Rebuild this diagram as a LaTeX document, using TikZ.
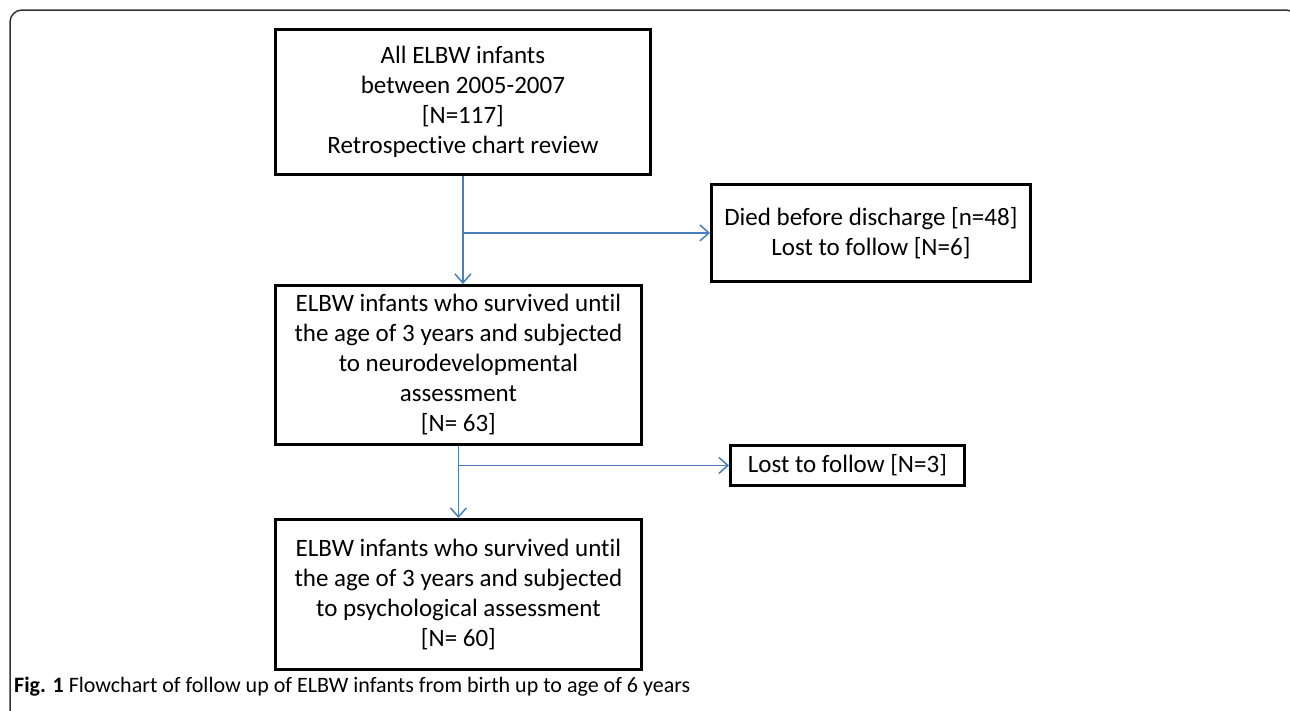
\documentclass[tikz,border=0pt]{standalone}
\usepackage{fontspec}
\setmainfont{Carlito}[Ligatures=NoCommon]
\usepackage{xcolor}
\usepackage{tikz}
\usetikzlibrary{arrows.meta}

\definecolor{arrowblue}{RGB}{74,126,187}
\tikzset{
  box/.style={draw, line width=2.8pt, align=center, inner sep=2pt, anchor=north west,
    font=\fontsize{25}{30}\selectfont},
  flow/.style={draw=arrowblue, line width=1.5pt, -{Straight Barb[length=9pt,width=16pt]}}
}

\begin{document}
\begin{tikzpicture}[x=1pt,y=-1pt]
\useasboundingbox (0,0) rectangle (1290,710);
\draw[line width=1.5pt, rounded corners=12pt, black!80] (10,715) -- (10,10) -- (1298,10) -- (1298,715);

\node[box, minimum width=375, minimum height=145] (all) at (274,28) {All ELBW infants\\between 2005-2007\\{[N=117]}\\Retrospective chart review};
\node[box, minimum width=319, minimum height=97] (died) at (710,183) {Died before discharge [n=48]\\Lost to follow [N=6]};
\node[box, minimum width=366, minimum height=159] (survived) at (274,284) {ELBW infants who survived until\\the age of 3 years and subjected\\to neurodevelopmental\\assessment\\{[N= 63]}};
\node[box, minimum width=234, minimum height=40] (lost) at (729,444) {Lost to follow [N=3]};
\node[box, minimum width=366, minimum height=150] (psych) at (274,518) {ELBW infants who survived until\\the age of 3 years and subjected\\to psychological assessment\\{[N= 60]}};

\coordinate (split1) at (all.south |- died.west);
\coordinate (split2) at (survived.south |- lost.west);
\draw[flow] (all.south) -- (all.south |- survived.north);
\draw[flow] (split1) -- (died.west);
\draw[flow] (survived.south) -- (psych.north);
\draw[flow] (split2) -- (lost.west);

\node[anchor=base west, inner sep=0pt, font=\fontsize{22}{26}\selectfont] (caption) at (14,692) {\textbf{Fig. 1} Flowchart of follow up of ELBW infants from birth up to age of 6 years};
\end{tikzpicture}
\end{document}
